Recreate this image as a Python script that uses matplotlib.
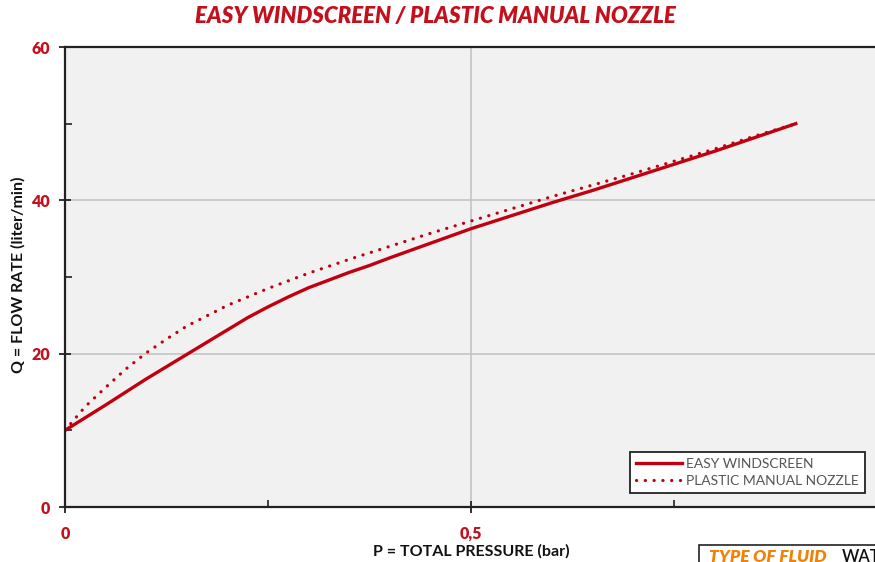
import matplotlib
matplotlib.use("Agg")
import matplotlib.pyplot as plt
from matplotlib.ticker import FixedLocator, FuncFormatter
from matplotlib.patches import Rectangle

# -----------------------------------------------------------
# DATA
# -----------------------------------------------------------
easy_p = [0, 0.05, 0.1, 0.15, 0.2, 0.225, 0.25, 0.275, 0.3, 0.325, 0.35, 0.375,
          0.4, 0.45, 0.5, 0.55, 0.6, 0.65, 0.7, 0.75, 0.8, 0.85, 0.9]
easy_q = [10.0, 13.3, 16.7, 19.9, 23.1, 24.7, 26.1, 27.4, 28.6, 29.6, 30.6, 31.5,
          32.5, 34.4, 36.3, 38.0, 39.7, 41.3, 43.0, 44.7, 46.4, 48.2, 50.0]

plastic_p = [0, 0.025, 0.05, 0.075, 0.1, 0.125, 0.15, 0.2, 0.25, 0.3, 0.35,
             0.4, 0.45, 0.5, 0.55, 0.6, 0.65, 0.7, 0.75, 0.8, 0.85, 0.9]
plastic_q = [10.0, 13.1, 15.6, 18.0, 20.1, 21.9, 23.6, 26.3, 28.5, 30.5, 32.3,
             34.0, 35.7, 37.3, 38.9, 40.5, 42.0, 43.5, 45.1, 46.7, 48.4, 50.0]

series_names = ["EASY WINDSCREEN", "PLASTIC MANUAL NOZZLE"]
x_ticks = [0, 0.5]
y_ticks = [0, 20, 40, 60]

RED = "#c4101c"
LINE_RED = "#c00010"

plt.rcParams["font.family"] = ["Lato", "DejaVu Sans"]

fig = plt.figure(figsize=(8.75, 5.62), dpi=100)
ax = fig.add_axes([65 / 875, 1 - 507 / 562, 812 / 875, 460 / 562])
ax.set_facecolor("#f1f1f1")

ax.plot(easy_p, easy_q, color=LINE_RED, lw=2.4, solid_joinstyle="round",
        label=series_names[0])
ax.plot(plastic_p, plastic_q, color=LINE_RED, lw=2.3, linestyle=(0, (0.05, 2.7)),
        dash_capstyle="round", label=series_names[1])

ax.set_xlim(0, 1)
ax.set_ylim(0, 60)

# ---- ticks & grid ----
ax.xaxis.set_major_locator(FixedLocator(x_ticks))
ax.xaxis.set_minor_locator(FixedLocator([0.25, 0.75]))
ax.yaxis.set_major_locator(FixedLocator(y_ticks))
ax.yaxis.set_minor_locator(FixedLocator([10, 30, 50]))
ax.xaxis.set_major_formatter(FuncFormatter(lambda v, p: f"{v:g}".replace(".", ",")))

ax.tick_params(which="major", direction="inout", length=9, width=1.3, color="#222222",
               labelcolor=RED, labelsize=11.5, pad=6)
ax.tick_params(which="minor", direction="in", length=5, width=1.2, color="#222222")
ax.tick_params(axis="x", which="major", pad=9)
for lab in ax.get_xticklabels() + ax.get_yticklabels():
    lab.set_fontweight("heavy")

ax.grid(True, which="major", color="#c4c4c4", lw=1.2)
ax.set_axisbelow(True)

for side in ["left", "bottom", "top"]:
    ax.spines[side].set_color("#222222")
    ax.spines[side].set_linewidth(1.6)
ax.spines["right"].set_visible(False)

# ---- labels ----
fig.text(471 / 875, 1 - 551 / 562, "P = TOTAL PRESSURE (bar)", ha="center", va="center",
         fontsize=11.5, color="#111111", fontweight="bold")
fig.text(18 / 875, 1 - 275 / 562, "Q = FLOW RATE (liter/min)", ha="center", va="center",
         rotation=90, fontsize=11.5, color="#111111", fontweight="bold")

fig.text(435 / 875, 1 - 16 / 562, "EASY WINDSCREEN / PLASTIC MANUAL NOZZLE",
         ha="center", va="center", fontsize=16, color=RED, fontweight="heavy",
         fontstyle="italic")

# ---- legend ----
leg = ax.legend(loc="lower right", bbox_to_anchor=(865 / 875, 1 - 493 / 562),
                bbox_transform=fig.transFigure, fontsize=10, handlelength=3.3,
                handletextpad=0.3, borderpad=0.45, labelspacing=0.35,
                fancybox=False, framealpha=1, edgecolor="#222222",
                borderaxespad=0)
leg.get_frame().set_linewidth(1.3)
for t in leg.get_texts():
    t.set_color("#555555")

# ---- fluid box (cut off at the bottom edge, as in the source) ----
fig.patches.append(Rectangle((699 / 875, -0.05), 0.3, 0.05 + 1 - 545 / 562,
                             transform=fig.transFigure, facecolor="white",
                             edgecolor="#222222", lw=1.2))
fig.text(709 / 875, 1 - 549 / 562, "TYPE OF FLUID", ha="left", va="top",
         fontsize=12.5, color="#f0820a", fontweight="heavy", fontstyle="italic")
fig.text(842 / 875, 1 - 549 / 562, "WATER", ha="left", va="top",
         fontsize=12, color="#111111", fontweight="semibold")

fig.savefig("out.png", dpi=100)
